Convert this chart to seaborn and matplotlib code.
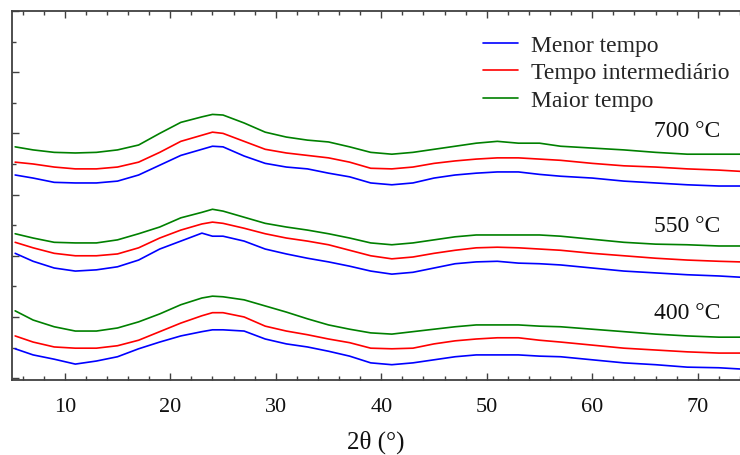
import matplotlib
matplotlib.use("Agg")
import matplotlib.pyplot as plt
from matplotlib.ticker import MultipleLocator, NullFormatter
import numpy as np
import pandas as pd
import seaborn as sns

# 2theta sampling positions (degrees)
two_theta = [5.3, 7, 9, 11, 13, 15, 17, 19, 21, 23, 24, 25, 27, 29, 31, 33, 35,
             37, 39, 41, 43, 45, 47, 49, 51, 53, 55, 57, 60, 63, 66, 69, 72, 74]

# Intensity (a.u., vertically offset) for each calcination temperature and time
i700_menor = [3.32, 3.27, 3.20, 3.19, 3.19, 3.22, 3.32, 3.48, 3.64, 3.74, 3.79, 3.78,
              3.63, 3.51, 3.45, 3.42, 3.35, 3.29, 3.19, 3.16, 3.19, 3.27, 3.32, 3.35,
              3.37, 3.37, 3.33, 3.30, 3.27, 3.22, 3.19, 3.16, 3.14, 3.14]
i700_inter = [3.53, 3.50, 3.45, 3.42, 3.42, 3.45, 3.53, 3.69, 3.87, 3.97, 4.02, 4.00,
              3.87, 3.74, 3.68, 3.64, 3.60, 3.53, 3.43, 3.42, 3.45, 3.51, 3.55, 3.58,
              3.60, 3.60, 3.58, 3.56, 3.51, 3.47, 3.45, 3.42, 3.40, 3.38]
i700_maior = [3.78, 3.73, 3.69, 3.68, 3.69, 3.73, 3.81, 4.00, 4.18, 4.27, 4.31, 4.30,
              4.17, 4.02, 3.94, 3.89, 3.86, 3.78, 3.69, 3.66, 3.69, 3.74, 3.79, 3.84,
              3.87, 3.84, 3.84, 3.79, 3.76, 3.73, 3.69, 3.66, 3.66, 3.66]

i550_menor = [2.04, 1.91, 1.80, 1.75, 1.77, 1.82, 1.93, 2.11, 2.24, 2.37, 2.32, 2.32,
              2.24, 2.11, 2.03, 1.96, 1.90, 1.83, 1.75, 1.70, 1.73, 1.80, 1.87, 1.90,
              1.91, 1.88, 1.87, 1.85, 1.80, 1.75, 1.72, 1.69, 1.67, 1.65]
i550_inter = [2.22, 2.13, 2.04, 2.00, 2.00, 2.03, 2.13, 2.29, 2.42, 2.52, 2.55, 2.53,
              2.45, 2.36, 2.29, 2.24, 2.18, 2.09, 2.00, 1.95, 1.98, 2.04, 2.09, 2.13,
              2.14, 2.13, 2.11, 2.09, 2.04, 2.00, 1.96, 1.93, 1.91, 1.90]
i550_maior = [2.36, 2.29, 2.22, 2.21, 2.21, 2.26, 2.36, 2.47, 2.62, 2.71, 2.76, 2.73,
              2.63, 2.53, 2.47, 2.42, 2.36, 2.29, 2.21, 2.18, 2.21, 2.26, 2.31, 2.34,
              2.34, 2.34, 2.34, 2.32, 2.27, 2.22, 2.19, 2.18, 2.16, 2.16]

i400_menor = [0.48, 0.38, 0.31, 0.23, 0.28, 0.35, 0.48, 0.59, 0.69, 0.76, 0.79, 0.79,
              0.77, 0.64, 0.56, 0.51, 0.44, 0.36, 0.25, 0.22, 0.25, 0.30, 0.35, 0.38,
              0.38, 0.38, 0.36, 0.35, 0.30, 0.25, 0.22, 0.18, 0.17, 0.15]
i400_inter = [0.69, 0.59, 0.51, 0.49, 0.49, 0.53, 0.62, 0.76, 0.90, 1.02, 1.07, 1.07,
              1.00, 0.85, 0.77, 0.71, 0.64, 0.58, 0.49, 0.48, 0.49, 0.56, 0.61, 0.64,
              0.66, 0.66, 0.62, 0.59, 0.54, 0.49, 0.46, 0.43, 0.41, 0.41]
i400_maior = [1.10, 0.95, 0.84, 0.77, 0.77, 0.82, 0.92, 1.05, 1.20, 1.31, 1.34, 1.33,
              1.28, 1.18, 1.08, 0.97, 0.87, 0.80, 0.74, 0.72, 0.76, 0.80, 0.84, 0.87,
              0.87, 0.87, 0.85, 0.84, 0.80, 0.76, 0.72, 0.69, 0.67, 0.67]

time_labels = ["Menor tempo", "Tempo intermediário", "Maior tempo"]
time_colors = ["#0000ff", "#ff0000", "#008000"]
temp_labels = ["400 °C", "550 °C", "700 °C"]
temp_label_y = [1.08, 2.49, 4.05]

series = {
    "400 °C": [i400_menor, i400_inter, i400_maior],
    "550 °C": [i550_menor, i550_inter, i550_maior],
    "700 °C": [i700_menor, i700_inter, i700_maior],
}

rows = []
for temp, curves in series.items():
    for tlabel, values in zip(time_labels, curves):
        for x, y in zip(two_theta, values):
            rows.append({"2theta": x, "I": y, "tempo": tlabel, "temp": temp})
df = pd.DataFrame(rows)

sns.set_style("ticks")
plt.rcParams["font.family"] = ["Liberation Serif", "DejaVu Serif"]

fig = plt.figure(figsize=(7.4, 4.56), dpi=100)
ax = fig.add_axes([12 / 740, (456 - 381) / 456, (740 - 12) / 740, (381 - 12) / 456])

sns.lineplot(data=df, x="2theta", y="I", hue="tempo", units="temp",
             estimator=None, palette=dict(zip(time_labels, time_colors)),
             hue_order=time_labels, linewidth=1.2, ax=ax, sort=False)

for lab, ly in zip(temp_labels, temp_label_y):
    ax.text(72.1, ly, lab, ha="right", va="center", fontsize=17, color="#111111")

ax.set_xlim(5, 74)
ax.set_ylim(-0.03, 6.0)
ax.xaxis.set_major_locator(MultipleLocator(10))
ax.xaxis.set_minor_locator(MultipleLocator(2))
ax.yaxis.set_major_locator(MultipleLocator(1))
ax.yaxis.set_minor_locator(MultipleLocator(0.5))
ax.yaxis.set_major_formatter(NullFormatter())
ax.tick_params(axis="both", which="both", direction="in", colors="#404040",
               labelcolor="#111111", width=1.0)
ax.tick_params(axis="x", which="both", top=True, bottom=True, labelsize=16, pad=12)
ax.tick_params(axis="y", which="both", left=True, right=False)
ax.tick_params(which="major", length=5)
ax.tick_params(which="minor", length=3)
for side in ["left", "bottom", "top"]:
    ax.spines[side].set_color("#404040")
    ax.spines[side].set_linewidth(1.3)
ax.spines["right"].set_visible(False)

ax.set_xlabel("2θ (°)", fontsize=18, color="#111111", labelpad=10)
ax.set_ylabel("")

leg = ax.legend(loc="upper right", bbox_to_anchor=(1.005, 0.975), frameon=False,
                fontsize=17, handlelength=1.5, handletextpad=0.55,
                labelspacing=0.25, borderaxespad=0.2)
for h in leg.get_lines():
    h.set_linewidth(1.2)

fig.savefig("out.png", dpi=100)
